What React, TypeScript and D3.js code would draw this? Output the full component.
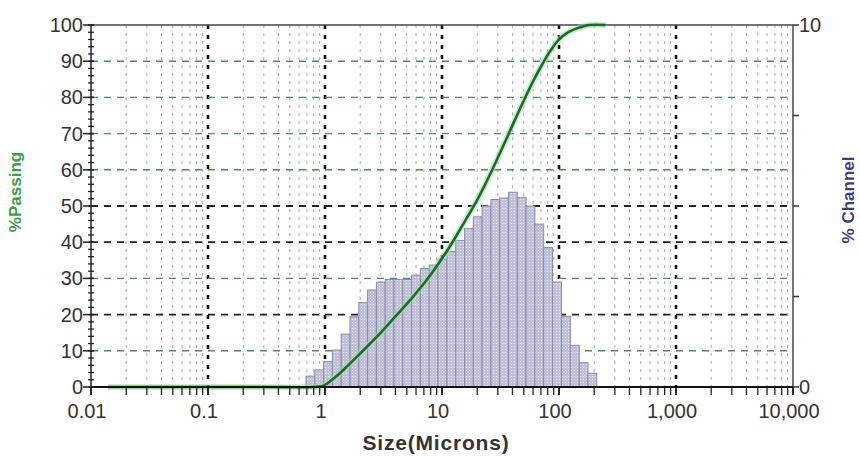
import React from "react";
import * as d3 from "d3";

// Channel (bin) edges in microns and % channel per bin
const BIN_EDGES = [0.688, 0.818, 0.972, 1.156, 1.375, 1.635, 1.945, 2.312, 2.75, 3.27, 3.89, 4.62, 5.5, 6.54, 7.78, 9.25, 11, 13.1, 15.6, 18.5, 22, 26.2, 31.1, 37, 44, 52.3, 62.2, 74, 88, 105, 125, 149, 177, 210];
const CHANNEL_PCT = [0.30, 0.47, 0.70, 1.02, 1.46, 1.94, 2.33, 2.68, 2.90, 2.97, 2.97, 2.97, 3.09, 3.27, 3.37, 3.53, 3.74, 4.05, 4.38, 4.70, 5.00, 5.18, 5.22, 5.38, 5.23, 5.00, 4.50, 3.85, 2.90, 1.95, 1.15, 0.67, 0.38];

// Cumulative % passing curve
const PASS_SIZE = [0.014, 0.3, 0.8, 0.96, 1.2, 1.5, 2.0, 3.0, 4.0, 5.5, 7.45, 10, 12.4, 15.5, 19.1, 23, 27.3, 34, 42, 51, 62, 73, 85, 99, 120, 153, 180, 250];
const PASS_PCT = [0, 0, 0, 0.3, 2.5, 5.3, 9.3, 15.0, 19.5, 24.5, 29.7, 35.5, 40.2, 45.5, 50.5, 55.5, 60.5, 67.2, 73.8, 79.7, 85.3, 89.5, 93, 95.8, 98, 99.4, 100, 100];

// Axis ticks
const X_DECADES = [0.01, 0.1, 1, 10, 100, 1000, 10000];
const X_LABELS = ["0.01", "0.1", "1", "10", "100", "1,000", "10,000"];
const Y_LEFT_TICKS = [0, 10, 20, 30, 40, 50, 60, 70, 80, 90, 100];
const Y_RIGHT_TICKS = [0, 2.5, 5, 7.5, 10];
const Y_RIGHT_LABELS = ["0", "", "", "", "10"];

const W = 860, H = 457;
const L = 91, R = 793, T = 25, B = 387;

export default function App() {
  const x = d3.scaleLog().domain([0.01, 10000]).range([L, R]);
  const yL = d3.scaleLinear().domain([0, 100]).range([B, T]);
  const yR = d3.scaleLinear().domain([0, 10]).range([B, T]);

  const minors: number[] = [];
  for (let i = 0; i < X_DECADES.length - 1; i++) {
    for (let k = 2; k <= 9; k++) minors.push(X_DECADES[i] * k);
  }
  const majorsInner = X_DECADES.slice(1, -1);
  const leftMinor = d3.range(0, 101, 2);

  const passData = PASS_SIZE.map((s, i) => [s, PASS_PCT[i]] as [number, number]);
  const line = d3
    .line<[number, number]>()
    .x((d) => x(d[0]))
    .y((d) => yL(d[1]))
    .curve(d3.curveCatmullRom.alpha(0.5));
  const path = line(passData) || "";

  const bars = CHANNEL_PCT.map((v, i) => ({
    x0: x(BIN_EDGES[i]),
    x1: x(BIN_EDGES[i + 1]),
    y: yR(v),
  }));

  const font = "'Liberation Sans', Arial, sans-serif";
  const darkGrid = new Set([20, 40, 50]);

  return (
    <svg width={W} height={H} style={{ position: "absolute", left: 0, top: 0, background: "#fff" }} fontFamily={font}>
      <defs>
        <pattern id="dots" width="3" height="3" patternUnits="userSpaceOnUse">
          <rect width="3" height="3" fill="#c0c0dd" />
          <rect x="1" y="1" width="1" height="1" fill="#ececf7" />
        </pattern>
      </defs>
      <rect width={W} height={H} fill="#fff" />

      {/* minor vertical grid */}
      {minors.map((m, i) => (
        <line key={"mv" + i} x1={x(m)} x2={x(m)} y1={T} y2={B} stroke="#a8a8a8" strokeWidth={1} strokeDasharray="3,5" />
      ))}
      {/* major vertical grid */}
      {majorsInner.map((m, i) => (
        <line key={"Mv" + i} x1={x(m)} x2={x(m)} y1={T} y2={B} stroke="#111" strokeWidth={2.6} strokeDasharray="4,6" />
      ))}
      {/* horizontal grid */}
      {Y_LEFT_TICKS.slice(1, -1).map((t) => (
        <line key={"h" + t} x1={L} x2={R} y1={yL(t)} y2={yL(t)}
          stroke={darkGrid.has(t) ? "#222" : "#4f8a5a"} strokeWidth={darkGrid.has(t) ? 1.8 : 1.4} strokeDasharray="7,6" />
      ))}

      {/* bars */}
      {bars.map((b, i) => (
        <rect key={"b" + i} x={b.x0} y={b.y} width={b.x1 - b.x0} height={B - b.y}
          fill="url(#dots)" stroke="#8a8aa6" strokeWidth={1} />
      ))}

      {/* frame */}
      <line x1={L} x2={R} y1={T} y2={T} stroke="#444" strokeWidth={1.5} />
      <line x1={L} x2={L} y1={T} y2={B} stroke="#222" strokeWidth={1.5} />
      <line x1={R} x2={R} y1={T} y2={B} stroke="#444" strokeWidth={1.5} />

      {/* passing curve */}
      <path d={path} fill="none" stroke="#9be09b" strokeWidth={6} strokeOpacity={0.55} strokeLinejoin="round" />
      <path d={path} fill="none" stroke="#1d6a2c" strokeWidth={2.6} strokeLinejoin="round" />

      <line x1={L} x2={R} y1={B} y2={B} stroke="#111" strokeWidth={2} />

      {/* bottom ticks */}
      {minors.map((m, i) => (
        <line key={"bt" + i} x1={x(m)} x2={x(m)} y1={B} y2={B + 8} stroke="#222" strokeWidth={1.3} />
      ))}
      {X_DECADES.map((m, i) => (
        <line key={"bT" + i} x1={x(m)} x2={x(m)} y1={B} y2={B + 8} stroke="#111" strokeWidth={1.8} />
      ))}
      {X_DECADES.map((m, i) => (
        <text key={"bl" + i} x={x(m) - 4} y={B + 31} textAnchor="middle" fontSize={20} fill="#333">{X_LABELS[i]}</text>
      ))}

      {/* left ticks */}
      {leftMinor.map((t) => (
        <line key={"lm" + t} x1={L - 3} x2={L + 3} y1={yL(t)} y2={yL(t)} stroke="#222" strokeWidth={1.3} />
      ))}
      {Y_LEFT_TICKS.map((t) => (
        <g key={"lt" + t}>
          <line x1={L - 8} x2={L + 3} y1={yL(t)} y2={yL(t)} stroke="#222" strokeWidth={1.5} />
          <text x={L - 8} y={yL(t) + 7} textAnchor="end" fontSize={20} fill="#333">{t}</text>
        </g>
      ))}

      {/* right ticks */}
      {Y_RIGHT_TICKS.map((t, i) => (
        <g key={"rt" + t}>
          <line x1={R} x2={R + 6} y1={yR(t)} y2={yR(t)} stroke="#333" strokeWidth={1.5} />
          {Y_RIGHT_LABELS[i] && (
            <text x={R + 6} y={yR(t) + 7} textAnchor="start" fontSize={20} fill="#333">{Y_RIGHT_LABELS[i]}</text>
          )}
        </g>
      ))}

      {/* axis titles */}
      <text x={436} y={450} textAnchor="middle" fontSize={21} fontWeight="bold" letterSpacing={0.8} fill="#333">Size(Microns)</text>
      <text transform={`translate(21,192) rotate(-90)`} textAnchor="middle" fontSize={17} fontWeight="bold" fill="#3a9e46">%Passing</text>
      <text transform={`translate(854,200) rotate(-90)`} textAnchor="middle" fontSize={17} fontWeight="bold" fill="#3c3c7a">% Channel</text>
    </svg>
  );
}
